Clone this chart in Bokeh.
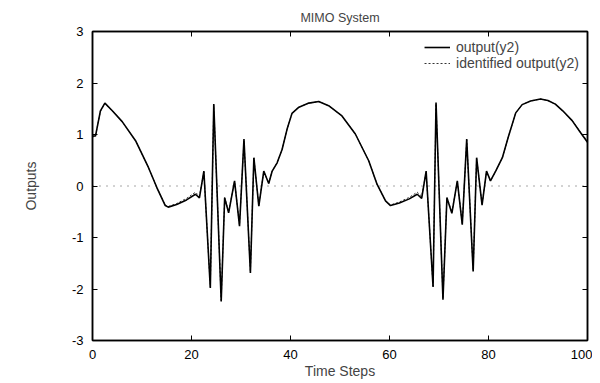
from bokeh.plotting import figure
from bokeh.models import (Legend, LegendItem, Span, LinearAxis, FixedTicker, Range1d,
                          CustomJSTickFormatter)
from bokeh.embed import file_html
from bokeh.resources import INLINE

# ---- data ----
time_steps = [0, 0.6, 1.6, 2.5, 4, 6, 8.7, 11.3, 13, 14.7, 15.3, 17, 19, 20.8, 21.6,
              22.5, 23.8, 24.5, 26, 26.7, 27.5, 28.7, 29.7, 30.6, 31.9, 32.6, 33.6, 34.6,
              35.6, 36.3, 37.3, 38.3, 39.3, 40.3, 41.7, 43.7, 45.7, 47.7, 50.4, 53.1,
              55.8, 57.5, 59.2, 60.2, 62, 64, 65.6, 66.5, 67.4, 68.8, 69.4, 70.8, 71.6,
              72.6, 73.7, 74.7, 75.6, 76.9, 77.6, 78.7, 79.6, 80.4, 81.5, 82.8, 84,
              85.5, 86.8, 88.5, 90.5, 92, 93.5, 95, 96.9, 98.5, 100]
output_y2 = [0.97, 0.97, 1.46, 1.61, 1.46, 1.25, 0.88, 0.36, -0.03, -0.38, -0.41, -0.36,
             -0.27, -0.16, -0.23, 0.29, -1.98, 1.59, -2.24, -0.23, -0.52, 0.10, -0.78,
             0.91, -1.69, 0.55, -0.39, 0.29, 0.05, 0.29, 0.45, 0.71, 1.10, 1.41, 1.53,
             1.61, 1.64, 1.56, 1.36, 1.01, 0.49, 0.03, -0.29, -0.38, -0.33, -0.25,
             -0.16, -0.24, 0.29, -1.96, 1.62, -2.21, -0.23, -0.53, 0.10, -0.75, 0.91,
             -1.66, 0.55, -0.37, 0.29, 0.10, 0.30, 0.55, 0.95, 1.42, 1.58, 1.65, 1.69,
             1.66, 1.59, 1.46, 1.27, 1.05, 0.85]
identified_y2 = [0.95, 0.97, 1.45, 1.60, 1.46, 1.25, 0.88, 0.36, -0.03, -0.37, -0.40, -0.34,
                 -0.24, -0.12, -0.20, 0.27, -1.96, 1.57, -2.22, -0.22, -0.50, 0.09, -0.76,
                 0.89, -1.67, 0.54, -0.38, 0.28, 0.05, 0.29, 0.45, 0.71, 1.10, 1.41, 1.53,
                 1.61, 1.64, 1.56, 1.36, 1.01, 0.49, 0.03, -0.29, -0.37, -0.31, -0.22,
                 -0.12, -0.20, 0.27, -1.94, 1.60, -2.19, -0.22, -0.51, 0.09, -0.73, 0.89,
                 -1.64, 0.54, -0.36, 0.28, 0.10, 0.30, 0.55, 0.95, 1.42, 1.58, 1.65, 1.69,
                 1.66, 1.59, 1.46, 1.27, 1.06, 0.87]
x_ticks = [0, 20, 40, 60, 80, 100]
y_ticks = [-3, -2, -1, 0, 1, 2, 3]
y_tick_labels = ["-3", "-2", "-1", "0", "1", "2", "3"]

FONT = "Liberation Sans"

p = figure(width=592, height=381, output_backend="svg", toolbar_location=None,
           x_range=Range1d(0, 100), y_range=Range1d(-3, 3),
           title="MIMO System",
           min_border_left=92, min_border_right=5, min_border_top=31, min_border_bottom=36)

p.title.align = "center"
p.title.text_font = FONT
p.title.text_font_size = "12.5px"
p.title.text_font_style = "normal"
p.title.offset = 0
p.title.vertical_align = "top"
p.title.text_line_height = 2.0

p.xgrid.visible = False
p.ygrid.visible = False
p.outline_line_color = "black"
p.outline_line_width = 1.5
p.background_fill_color = "white"
p.border_fill_color = "white"

for ax, ticks in ((p.xaxis[0], x_ticks), (p.yaxis[0], y_ticks)):
    ax.ticker = FixedTicker(ticks=ticks)
    ax.major_tick_in = 5
    ax.major_tick_out = 0
    ax.minor_tick_in = 0
    ax.minor_tick_out = 0
    ax.axis_line_color = "black"
    ax.axis_line_width = 1.5
    ax.major_tick_line_width = 1
    ax.major_label_text_font = FONT
    ax.major_label_text_font_size = "13px"
    ax.major_label_text_color = "black"
    ax.axis_label_text_font = FONT
    ax.axis_label_text_font_size = "14px"
    ax.axis_label_text_font_style = "normal"

p.yaxis[0].major_label_overrides = dict(zip(y_ticks, y_tick_labels))
p.xaxis[0].major_label_standoff = 9
p.yaxis[0].major_label_standoff = 9
p.xaxis[0].axis_label = "Time Steps"
p.xaxis[0].axis_label_standoff = 1
p.yaxis[0].axis_label = "Outputs"
p.yaxis[0].axis_label_standoff = 30

# mirrored ticks on top and right (no labels)
for loc, ticks in (("right", y_ticks), ("above", x_ticks)):
    a = LinearAxis(ticker=FixedTicker(ticks=ticks), major_tick_in=5, major_tick_out=0,
                   minor_tick_in=0, minor_tick_out=0,
                   formatter=CustomJSTickFormatter(code="return ''"),
                   major_label_standoff=0, axis_line_color="black", axis_line_width=1.5)
    p.add_layout(a, loc)

zero = Span(location=0, dimension="width", line_color="black", line_dash="1 6",
            line_width=1, line_alpha=0.7)
p.add_layout(zero)

r1 = p.line(time_steps, output_y2, line_color="black", line_width=1.6)
r2 = p.line(time_steps, identified_y2, line_color="black", line_width=0.8, line_dash="2 2")

legend = Legend(items=[LegendItem(label="output(y2)", renderers=[r1]),
                       LegendItem(label="identified output(y2)", renderers=[r2])],
                location="top_right", border_line_alpha=0, background_fill_alpha=0,
                label_text_font=FONT, label_text_font_size="14px", glyph_width=26,
                glyph_height=12, label_height=12, spacing=0, padding=2, margin=6,
                label_standoff=6)
p.add_layout(legend)

open("out.html", "w").write(file_html(p, INLINE))
